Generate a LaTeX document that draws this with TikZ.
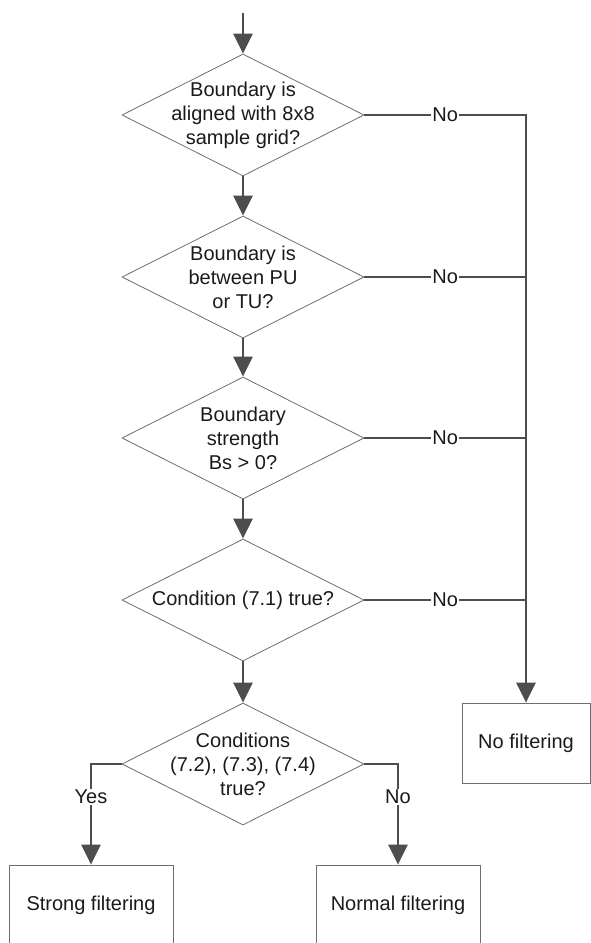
\documentclass[tikz,border=0pt]{standalone}
\usepackage{fontspec}
\setmainfont{Liberation Sans}
\usetikzlibrary{shapes.geometric,arrows.meta}
\definecolor{flowline}{HTML}{4D4D4D}
\definecolor{shapeline}{HTML}{6E6E6E}
\definecolor{textcol}{HTML}{1A1A1A}

\begin{document}
\begin{tikzpicture}[x=1pt,y=-1pt,
  every node/.style={font=\fontsize{20}{24}\selectfont, text=textcol},
  decision/.style={diamond, draw=shapeline, line width=0.8pt,
    minimum width=242pt, minimum height=122pt, inner sep=0pt},
  outcome/.style={rectangle, draw=shapeline, line width=0.8pt, inner sep=0pt},
  flow/.style={draw=flowline, line width=2.6pt},
  arrowflow/.style={flow, -{Triangle[width=19pt,length=20pt]}},
  answer/.style={fill=white, inner sep=1pt},
  qtext/.style={align=center}
]
\useasboundingbox (0,0) rectangle (591,943);

% decisions
\node[decision, label={[qtext]center:{Boundary is\\aligned with 8x8\\sample grid?}}] (d1) at (243,115) {};
\node[decision, label={[qtext]center:{Boundary is\\between PU\\or TU?}}] (d2) at (243,277) {};
\node[decision, label={[qtext]center:{Boundary\\strength\\Bs > 0?}}] (d3) at (243,438) {};
\node[decision, label={[qtext]center:{Condition (7.1) true?}}] (d4) at (243,600) {};
\node[decision, label={[qtext]center:{Conditions\\(7.2), (7.3), (7.4)\\true?}}] (d5) at (243,764) {};

% outcomes
\node[outcome, minimum width=128pt, minimum height=80pt] (nofilt) at (526,743) {No filtering};
\node[outcome, minimum width=164pt, minimum height=80pt] (strong) at (91,905) {Strong filtering};
\node[outcome, minimum width=164pt, minimum height=80pt] (normal) at (398,905) {Normal filtering};

% main chain
\coordinate (start) at (243,13);
\draw[arrowflow] (start) -- (d1.north);
\draw[arrowflow] (d1.south) -- (d2.north);
\draw[arrowflow] (d2.south) -- (d3.north);
\draw[arrowflow] (d3.south) -- (d4.north);
\draw[arrowflow] (d4.south) -- (d5.north);

% "No" branches joining the right-hand spine
\coordinate (spine) at (nofilt.north |- d1.east);
\draw[arrowflow] (d1.east) -- node[answer]{No} (spine) -- (nofilt.north);
\draw[flow] (d2.east) -- node[answer]{No} (d2.east -| spine);
\draw[flow] (d3.east) -- node[answer]{No} (d3.east -| spine);
\draw[flow] (d4.east) -- node[answer]{No} (d4.east -| spine);

% final decision
\draw[arrowflow] (d5.west) -- (d5.west -| strong.north) -- node[answer, pos=0.33]{Yes} (strong.north);
\draw[arrowflow] (d5.east) -- (d5.east -| normal.north) -- node[answer, pos=0.33]{No} (normal.north);
\end{tikzpicture}
\end{document}
